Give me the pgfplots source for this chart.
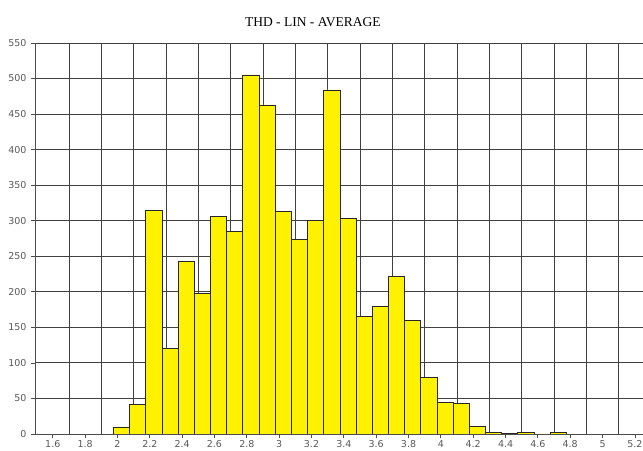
\documentclass[border=0pt]{standalone}
\usepackage{fontspec}
\setmainfont{DejaVu Sans}
\newfontfamily\titlefont{Liberation Serif}
\usepackage{pgfplots}
\pgfplotsset{compat=1.18}

% histogram counts, bin width 0.1
\pgfplotstableread{
x      n
2.025  10
2.125  42
2.225  315
2.325  120
2.425  243
2.525  198
2.625  306
2.725  285
2.825  505
2.925  463
3.025  313
3.125  274
3.225  300
3.325  484
3.425  303
3.525  165
3.625  179
3.725  222
3.825  160
3.925  80
4.025  45
4.125  43
4.225  11
4.325  2
4.425  1
4.525  2
4.625  0
4.725  2
}\thd

\begin{document}
\begin{tikzpicture}
\begin{axis}[
    name=ax,
    width=608pt, height=391pt, scale only axis,
    xmin=1.49, xmax=5.25,
    ymin=0, ymax=550,
    axis lines=left,
    axis line style={-, black!70, line width=0.9pt},
    xtick={1.6,1.8,2,2.2,2.4,2.6,2.8,3,3.2,3.4,3.6,3.8,4,4.2,4.4,4.6,4.8,5,5.2},
    minor xtick={1.7,1.9,2.1,2.3,2.5,2.7,2.9,3.1,3.3,3.5,3.7,3.9,4.1,4.3,4.5,4.7,4.9,5.1},
    ytick={0,50,100,150,200,250,300,350,400,450,500,550},
    ymajorgrids, xminorgrids,
    major grid style={black!75, line width=0.9pt},
    minor grid style={black!75, line width=0.9pt},
    tick align=outside,
    major tick length=4pt, minor tick length=0pt,
    tick style={black!70, line width=0.8pt},
    ticklabel style={font=\fontsize{9.5}{10}\selectfont, text=black!65},
    yticklabel style={xshift=-1pt},
    xticklabel style={yshift=1pt},
    /pgf/number format/assume math mode=true,
    title={\titlefont THD - LIN - AVERAGE},
    title style={at={(rel axis cs:0.457,1)}, anchor=base, yshift=10pt, inner sep=0pt,
                 font=\fontsize{13.5}{15}\selectfont},
]
\addplot[ybar, bar width=0.1, bar shift=0pt, fill=yellow, draw=black!85, line width=0.6pt]
    table[x=x, y=n] {\thd};
\end{axis}
\pgfresetboundingbox
\path ([xshift=-35pt,yshift=-17pt]ax.south west) rectangle ([yshift=43pt]ax.north east);
\end{tikzpicture}
\end{document}
